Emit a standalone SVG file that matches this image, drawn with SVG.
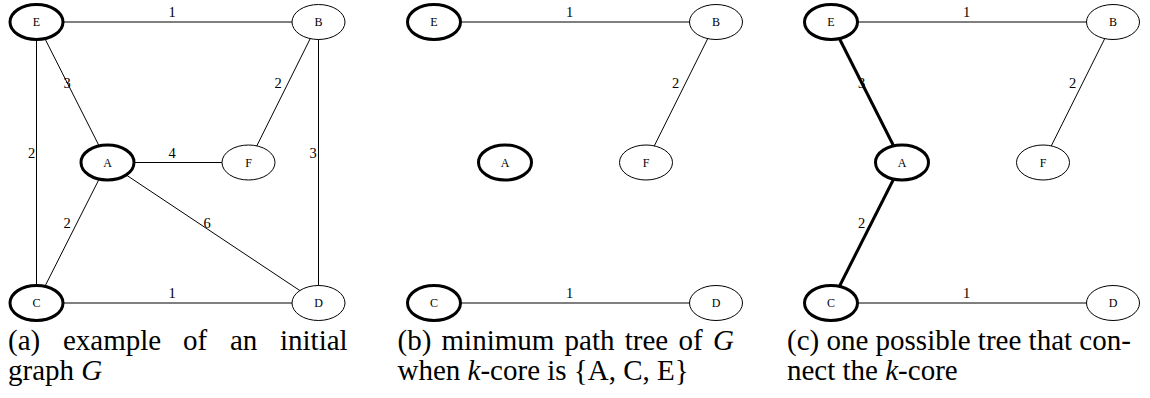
<svg xmlns="http://www.w3.org/2000/svg" width="1150" height="398" viewBox="0 0 1150 398">
<style>
.e{stroke:#000;stroke-width:1;fill:none}
.et{stroke:#000;stroke-width:3;fill:none}
.n{fill:#fff;stroke:#000;stroke-width:1}
.nt{fill:#fff;stroke:#000;stroke-width:3}
text{font-family:'Liberation Serif','Times New Roman','DejaVu Serif',serif;fill:#000}
.nl{font-size:12px;text-anchor:middle}
.el{font-size:14.5px;text-anchor:middle}
.cap{font-size:29px}
.it{font-style:italic}
</style>
<rect width="1150" height="398" fill="#fff"/>
<g id="panel-a">
<g id="connectors-a">
<line class="e" x1="36.5" y1="22" x2="318.5" y2="22"/>
<line class="e" x1="36.5" y1="22" x2="36.5" y2="303"/>
<line class="e" x1="36.5" y1="22" x2="107.5" y2="162.5"/>
<line class="e" x1="318.5" y1="22" x2="248.5" y2="162.5"/>
<line class="e" x1="318.5" y1="22" x2="318.5" y2="303"/>
<line class="e" x1="107.5" y1="162.5" x2="248.5" y2="162.5"/>
<line class="e" x1="107.5" y1="162.5" x2="36.5" y2="303"/>
<line class="e" x1="107.5" y1="162.5" x2="318.5" y2="303"/>
<line class="e" x1="36.5" y1="303" x2="318.5" y2="303"/>
<text class="el" x="172" y="17">1</text>
<text class="el" x="31.5" y="158">2</text>
<text class="el" x="67" y="88">3</text>
<text class="el" x="278" y="88">2</text>
<text class="el" x="172" y="158">4</text>
<text class="el" x="313" y="158">3</text>
<text class="el" x="67" y="228">2</text>
<text class="el" x="207" y="228">6</text>
<text class="el" x="172" y="298">1</text>
</g>
<g id="a-E"><ellipse class="nt" cx="36.5" cy="22" rx="26.5" ry="17.5"/><text class="nl" x="36.5" y="26">E</text></g>
<g id="a-B"><ellipse class="n" cx="318.5" cy="22" rx="26.5" ry="17.5"/><text class="nl" x="318.5" y="26">B</text></g>
<g id="a-A"><ellipse class="nt" cx="107.5" cy="162.5" rx="26.5" ry="17.5"/><text class="nl" x="107.5" y="166.5">A</text></g>
<g id="a-F"><ellipse class="n" cx="248.5" cy="162.5" rx="26.5" ry="17.5"/><text class="nl" x="248.5" y="166.5">F</text></g>
<g id="a-C"><ellipse class="nt" cx="36.5" cy="303" rx="26.5" ry="17.5"/><text class="nl" x="36.5" y="307">C</text></g>
<g id="a-D"><ellipse class="n" cx="318.5" cy="303" rx="26.5" ry="17.5"/><text class="nl" x="318.5" y="307">D</text></g>
<text class="cap" y="350"><tspan x="8">(a)</tspan><tspan x="63">example</tspan><tspan x="183">of</tspan><tspan x="230">an</tspan><tspan x="280">initial</tspan></text>
<text class="cap" x="8" y="380">graph <tspan class="it">G</tspan></text>
</g>
<g id="panel-b" transform="translate(397.5,0)">
<g id="connectors-b">
<line class="e" x1="36.5" y1="22" x2="318.5" y2="22"/>
<line class="e" x1="318.5" y1="22" x2="248.5" y2="162.5"/>
<line class="e" x1="36.5" y1="303" x2="318.5" y2="303"/>
<text class="el" x="172" y="17">1</text>
<text class="el" x="278" y="88">2</text>
<text class="el" x="172" y="298">1</text>
</g>
<g id="b-E"><ellipse class="nt" cx="36.5" cy="22" rx="26.5" ry="17.5"/><text class="nl" x="36.5" y="26">E</text></g>
<g id="b-B"><ellipse class="n" cx="318.5" cy="22" rx="26.5" ry="17.5"/><text class="nl" x="318.5" y="26">B</text></g>
<g id="b-A"><ellipse class="nt" cx="107.5" cy="162.5" rx="26.5" ry="17.5"/><text class="nl" x="107.5" y="166.5">A</text></g>
<g id="b-F"><ellipse class="n" cx="248.5" cy="162.5" rx="26.5" ry="17.5"/><text class="nl" x="248.5" y="166.5">F</text></g>
<g id="b-C"><ellipse class="nt" cx="36.5" cy="303" rx="26.5" ry="17.5"/><text class="nl" x="36.5" y="307">C</text></g>
<g id="b-D"><ellipse class="n" cx="318.5" cy="303" rx="26.5" ry="17.5"/><text class="nl" x="318.5" y="307">D</text></g>
<text class="cap" x="0" y="350" word-spacing="3">(b) minimum path tree of <tspan class="it">G</tspan></text>
<text class="cap" x="0" y="380">when <tspan class="it">k</tspan>-core is {A, C, E}</text>
</g>
<g id="panel-c" transform="translate(794.5,0)">
<g id="connectors-c">
<line class="e" x1="36.5" y1="22" x2="318.5" y2="22"/>
<text class="el" x="67" y="88">3</text>
<line class="et" x1="36.5" y1="22" x2="107.5" y2="162.5"/>
<line class="e" x1="318.5" y1="22" x2="248.5" y2="162.5"/>
<text class="el" x="67" y="228">2</text>
<line class="et" x1="107.5" y1="162.5" x2="36.5" y2="303"/>
<line class="e" x1="36.5" y1="303" x2="318.5" y2="303"/>
<text class="el" x="172" y="17">1</text>
<text class="el" x="278" y="88">2</text>
<text class="el" x="172" y="298">1</text>
</g>
<g id="c-E"><ellipse class="nt" cx="36.5" cy="22" rx="26.5" ry="17.5"/><text class="nl" x="36.5" y="26">E</text></g>
<g id="c-B"><ellipse class="n" cx="318.5" cy="22" rx="26.5" ry="17.5"/><text class="nl" x="318.5" y="26">B</text></g>
<g id="c-A"><ellipse class="nt" cx="107.5" cy="162.5" rx="26.5" ry="17.5"/><text class="nl" x="107.5" y="166.5">A</text></g>
<g id="c-F"><ellipse class="n" cx="248.5" cy="162.5" rx="26.5" ry="17.5"/><text class="nl" x="248.5" y="166.5">F</text></g>
<g id="c-C"><ellipse class="nt" cx="36.5" cy="303" rx="26.5" ry="17.5"/><text class="nl" x="36.5" y="307">C</text></g>
<g id="c-D"><ellipse class="n" cx="318.5" cy="303" rx="26.5" ry="17.5"/><text class="nl" x="318.5" y="307">D</text></g>
<text class="cap" x="-7.5" y="350">(c) one possible tree that con-</text>
<text class="cap" x="-7.5" y="380">nect the <tspan class="it">k</tspan>-core</text>
</g>
</svg>
